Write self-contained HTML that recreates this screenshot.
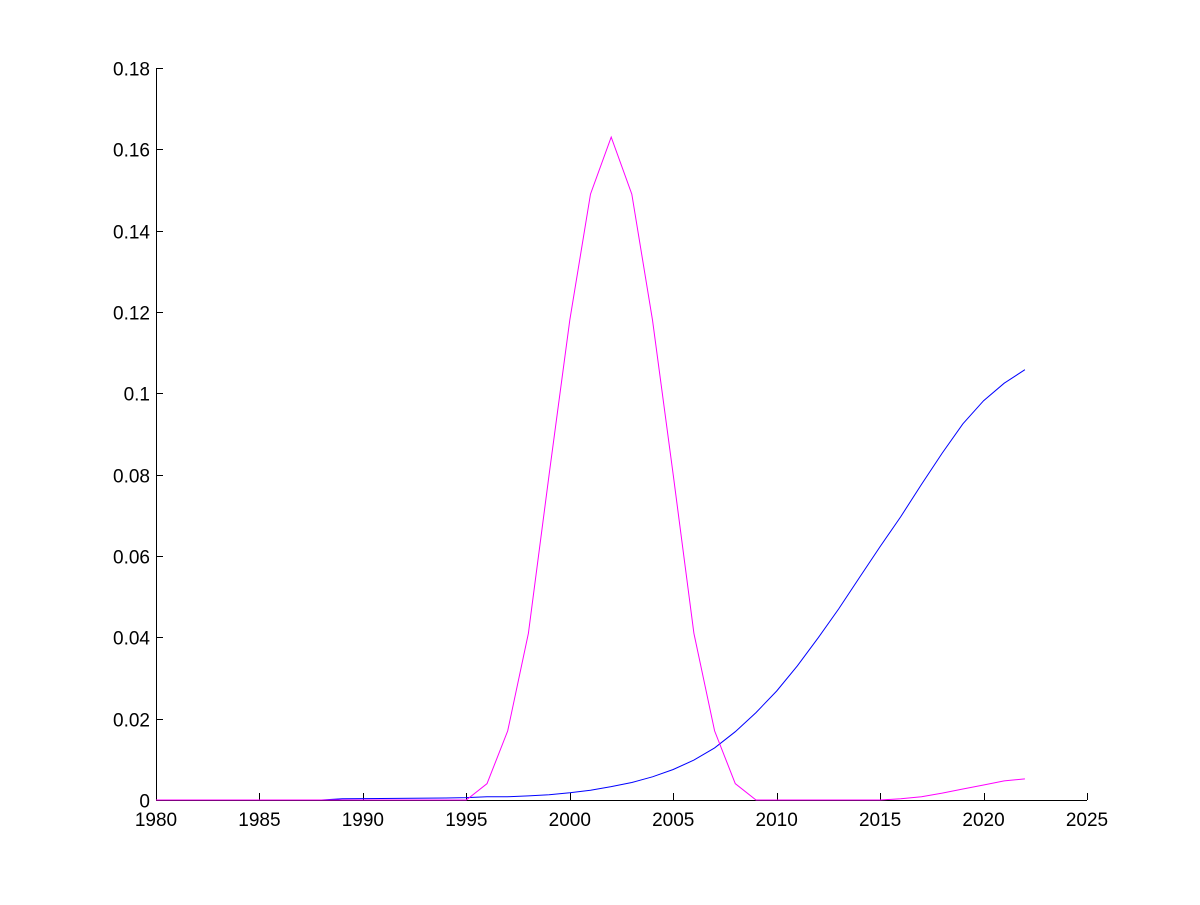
<!DOCTYPE html>
<html><head><style>html,body{margin:0;padding:0;background:#fff}</style></head>
<body>
<svg id="s" width="1200" height="900" xmlns="http://www.w3.org/2000/svg" font-family="Liberation Sans, Arial, sans-serif" font-size="19">
<rect width="1200" height="900" fill="#fff"/>
<g id="ax" stroke="#000" stroke-width="1" fill="none"></g>
<g id="lb" fill="#000"></g>
<polyline id="pb" fill="none" stroke="#0000ff" stroke-width="1"/>
<polyline id="pm" fill="none" stroke="#ff00ff" stroke-width="1"/>
</svg>
<script>
var X=function(t){return 156+(t-1980)*(1087-156)/45},Y=function(v){return 800-v*732/0.18};
var ax=document.getElementById('ax'),lb=document.getElementById('lb'),h='',l='';
h+='<line x1="156" y1="800.5" x2="1087" y2="800.5"/><line x1="156.5" y1="68" x2="156.5" y2="800"/>';
for(var t=1980;t<=2025;t+=5){var x=Math.round(X(t))+0.5;h+='<line x1="'+x+'" y1="800" x2="'+x+'" y2="793"/>';l+='<text x="'+X(t)+'" y="826" text-anchor="middle">'+t+'</text>';}
var ys=['0','0.02','0.04','0.06','0.08','0.1','0.12','0.14','0.16','0.18'];
for(var i=0;i<ys.length;i++){var y=Math.round(Y(i*0.02))+0.5;h+='<line x1="156" y1="'+y+'" x2="163" y2="'+y+'"/>';l+='<text x="150" y="'+(y+7)+'" text-anchor="end">'+ys[i]+'</text>';}
ax.innerHTML=h;lb.innerHTML=l;
var b=[[1980,0],[1988,0],[1989,0.0003],[1994,0.0005],[1995,0.0006],[1996,0.0008],[1997,0.0008],[1998,0.001],[1999,0.0013],[2000,0.0018],[2001,0.0024],[2002,0.0033],[2003,0.0043],[2004,0.0057],[2005,0.0075],[2006,0.0098],[2007,0.0128],[2008,0.0168],[2009,0.0215],[2010,0.0268],[2011,0.033],[2012,0.0398],[2013,0.047],[2014,0.0547],[2015,0.0623],[2016,0.0697],[2017,0.0776],[2018,0.0853],[2019,0.0925],[2020,0.0982],[2021,0.1025],[2022,0.1058]];
var m=[[1980,0],[1995,0],[1996,0.004],[1997,0.017],[1998,0.041],[1999,0.08],[2000,0.118],[2001,0.149],[2002,0.163],[2003,0.149],[2004,0.118],[2005,0.08],[2006,0.041],[2007,0.017],[2008,0.004],[2009,0],[2015,0],[2016,0.0003],[2017,0.0008],[2018,0.0017],[2019,0.0027],[2020,0.0037],[2021,0.0047],[2022,0.0052]];
function p(a){return a.map(function(q){return X(q[0]).toFixed(1)+','+Y(q[1]).toFixed(1)}).join(' ')}
document.getElementById('pb').setAttribute('points',p(b));
document.getElementById('pm').setAttribute('points',p(m));
</script>
</body></html>
